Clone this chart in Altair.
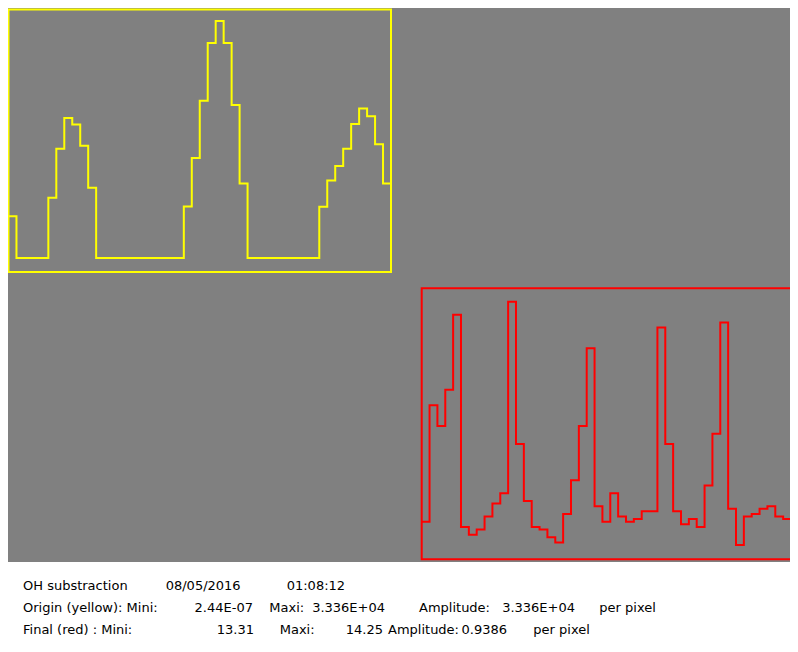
import altair as alt
import pandas as pd

# ---- data ----
# Origin (yellow) spectrum: 48 pixels, intensity per pixel
yellow_values = [5890, 0, 0, 0, 0, 8490, 15370, 19710, 18800, 15790, 9900,
                 0, 0, 0, 0, 0, 0, 0, 0, 0, 0, 0,
                 7260, 14060, 22140, 30250, 33360, 30250, 21530, 10500,
                 0, 0, 0, 0, 0, 0, 0, 0, 0,
                 7210, 10910, 12960, 15370, 18850, 21040, 19950, 16020, 10500]
# Final (red) spectrum: 47 pixels
red_values = [13.40, 13.85, 13.77, 13.91, 14.20, 13.38, 13.35, 13.37, 13.42, 13.47,
              13.51, 14.25, 13.70, 13.48, 13.38, 13.37, 13.34, 13.32, 13.43, 13.56,
              13.77, 14.07, 13.46, 13.40, 13.51, 13.42, 13.40, 13.41, 13.44, 13.44,
              14.15, 13.70, 13.44, 13.39, 13.41, 13.38, 13.54, 13.74, 14.17, 13.45,
              13.31, 13.42, 13.43, 13.45, 13.46, 13.42, 13.41]

yellow_min, yellow_max = 0.0, 33360.0
red_min, red_max = 13.31, 14.25

line1 = ["OH substraction", "08/05/2016", "01:08:12"]
line2 = ["Origin (yellow): Mini:", "2.44E-07", "Maxi:", "3.336E+04",
         "Amplitude:", "3.336E+04", "per pixel"]
line3 = ["Final (red) : Mini:", "13.31", "Maxi:", "14.25",
         "Amplitude:", "0.9386", "per pixel"]

# ---- layout (positions / styles) ----
W, H = 782, 630
GRAY = "#808080"
YEL = "#ffff00"
RED = "#ff0000"
# (x, align) per text segment
line1_pos = [(15, "left"), (157.7, "left"), (278.7, "left")]
line2_pos = [(15, "left"), (245, "right"), (261.3, "left"), (377, "right"),
             (411, "left"), (567, "right"), (591.3, "left")]
line3_pos = [(15, "left"), (246, "right"), (271.7, "left"), (375, "right"),
             (380, "left"), (499, "right"), (525.3, "left")]
line_y = [582, 604, 626]

ydf = pd.DataFrame({"pix": list(range(len(yellow_values))) + [len(yellow_values)],
                    "val": yellow_values + [yellow_values[-1]]})
rdf = pd.DataFrame({"pix": list(range(len(red_values))) + [len(red_values)],
                    "val": red_values + [red_values[-1]]})

bg = alt.Chart().mark_rect(color=GRAY).encode(
    x=alt.value(0), x2=alt.value(W), y=alt.value(0), y2=alt.value(554))

yframe = alt.Chart().mark_rect(fillOpacity=0, stroke=YEL, strokeWidth=2).encode(
    x=alt.value(0.5), x2=alt.value(383), y=alt.value(1.5), y2=alt.value(264))

yline = alt.Chart(ydf).mark_line(interpolate="step-after", color=YEL, strokeWidth=2).encode(
    x=alt.X("pix:Q", axis=None,
            scale=alt.Scale(domain=[0, len(yellow_values)], range=[0.5, 383], nice=False, zero=False)),
    y=alt.Y("val:Q", axis=None,
            scale=alt.Scale(domain=[yellow_min, yellow_max], range=[250, 13], nice=False, zero=False)),
)

rframe = alt.Chart().mark_rect(fillOpacity=0, stroke=RED, strokeWidth=2).encode(
    x=alt.value(413.7), x2=alt.value(W + 2), y=alt.value(280.3), y2=alt.value(551.3))

rline = alt.Chart(rdf).mark_line(interpolate="step-after", color=RED, strokeWidth=2).encode(
    x=alt.X("pix:Q", axis=None,
            scale=alt.Scale(domain=[0, len(red_values)], range=[413.7, W + 1], nice=False, zero=False)),
    y=alt.Y("val:Q", axis=None,
            scale=alt.Scale(domain=[red_min, red_max], range=[537, 293.7], nice=False, zero=False)),
)

texts = []
for segs, pos, yy in [(line1, line1_pos, line_y[0]), (line2, line2_pos, line_y[1]),
                      (line3, line3_pos, line_y[2])]:
    for s, (xx, al) in zip(segs, pos):
        texts.append(
            alt.Chart().mark_text(align=al, baseline="alphabetic", font="DejaVu Sans",
                                  fontSize=13, color="#000000").encode(
                x=alt.value(xx), y=alt.value(yy), text=alt.value(s))
        )

chart = alt.layer(bg, yframe, rframe, yline, rline, *texts).resolve_scale(
    x="independent", y="independent"
).properties(
    width=W, height=H, padding=0, background="#ffffff",
    autosize=alt.AutoSizeParams(type="none"),
).configure_view(strokeWidth=0)

chart.save("out.html", embed_options={"renderer": "svg", "actions": False})
